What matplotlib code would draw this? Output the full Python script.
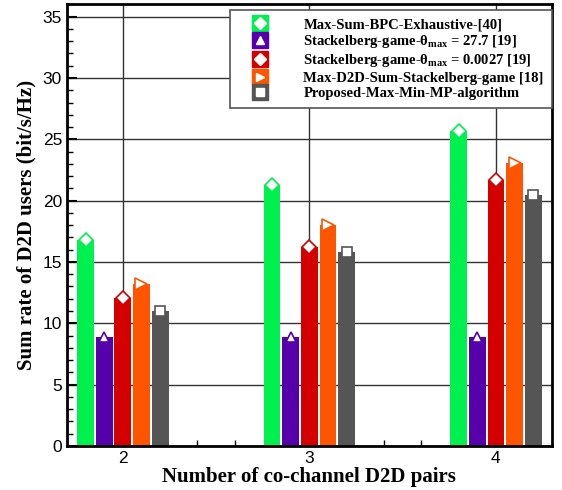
import numpy as np
import matplotlib.pyplot as plt
from matplotlib.lines import Line2D
from matplotlib.legend_handler import HandlerTuple
from matplotlib.ticker import MultipleLocator

# data
pairs = [2, 3, 4]
series_names = [
    "Max-Sum-BPC-Exhaustive-[40]",
    r"Stackelberg-game-$\mathbf{\theta_{max}}$ = 27.7 [19]",
    r"Stackelberg-game-$\mathbf{\theta_{max}}$ = 0.0027 [19]",
    "Max-D2D-Sum-Stackelberg-game [18]",
    "Proposed-Max-Min-MP-algorithm",
]
max_sum_bpc = [16.8, 21.3, 25.7]
stackelberg_27 = [8.9, 8.9, 8.9]
stackelberg_0027 = [12.05, 16.2, 21.7]
max_d2d_sum = [13.2, 18.05, 23.05]
proposed = [11.0, 15.8, 20.45]

values = [max_sum_bpc, stackelberg_27, stackelberg_0027, max_d2d_sum, proposed]
colors = ["#00F050", "#5500AA", "#D40000", "#FF5500", "#555555"]
markers = ["D", "^", "D", ">", "s"]
msizes = [7.5, 7, 7.5, 8, 7.5]

plt.rcParams['font.family'] = ['Liberation Sans', 'DejaVu Sans']
plt.rcParams['mathtext.fontset'] = 'custom'
plt.rcParams['mathtext.rm'] = 'Liberation Serif:bold'
plt.rcParams['mathtext.bf'] = 'Liberation Serif:bold'
plt.rcParams['mathtext.it'] = 'Liberation Serif:bold'

fig, ax = plt.subplots(figsize=(5.62, 4.90), dpi=100)
fig.subplots_adjust(left=0.119, right=0.982, top=0.991, bottom=0.090)

x = np.array(pairs, dtype=float)
offsets = [-0.2, -0.1, 0.0, 0.1, 0.2]
for vals, col, mk, ms, off in zip(values, colors, markers, msizes, offsets):
    ax.bar(x + off, vals, width=0.09, color=col, zorder=2)
    ax.plot(x + off, vals, linestyle="none", marker=mk, markersize=ms,
            markerfacecolor="white", markeredgecolor=col, markeredgewidth=1.2,
            zorder=3, clip_on=False)

ax.set_xlim(1.7, 4.3)
ax.set_ylim(0, 36)
ax.set_xticks(pairs)
ax.xaxis.set_minor_locator(MultipleLocator(0.2))
ax.yaxis.set_major_locator(MultipleLocator(5))
ax.yaxis.set_minor_locator(MultipleLocator(1))
ax.tick_params(which="major", direction="in", length=7, width=1.5, labelsize=12.5)
ax.tick_params(which="minor", direction="in", length=4, width=1)
ax.grid(True, which="major", color="#333333", linewidth=1, zorder=0)
ax.set_axisbelow(True)
for sp in ax.spines.values():
    sp.set_linewidth(2)

ax.set_xlabel("Number of co-channel D2D pairs", family="Liberation Serif",
              fontweight="bold", fontsize=15, labelpad=1)
ax.set_ylabel("Sum rate of D2D users (bit/s/Hz)", family="Liberation Serif",
              fontweight="bold", fontsize=15, labelpad=4)

handles = []
for col, mk in zip(colors, markers):
    bg = Line2D([], [], linestyle="none", marker="s", markersize=12,
                markerfacecolor=col, markeredgecolor=col)
    fg = Line2D([], [], linestyle="none", marker=mk, markersize=6,
                markerfacecolor="white", markeredgecolor="white")
    handles.append((bg, fg))

leg = ax.legend(handles, series_names, handler_map={tuple: HandlerTuple(ndivide=1)},
                loc="upper left", bbox_to_anchor=(0.336, 0.987), fancybox=False,
                framealpha=1, edgecolor="#555555", handlelength=3.0, handletextpad=1.5,
                borderpad=0.55, labelspacing=0.14, borderaxespad=0,
                prop={"family": "Liberation Serif", "weight": "bold", "size": 10.5})
leg.get_frame().set_linewidth(1.2)
leg.set_zorder(5)

fig.savefig("out.png", dpi=100)
